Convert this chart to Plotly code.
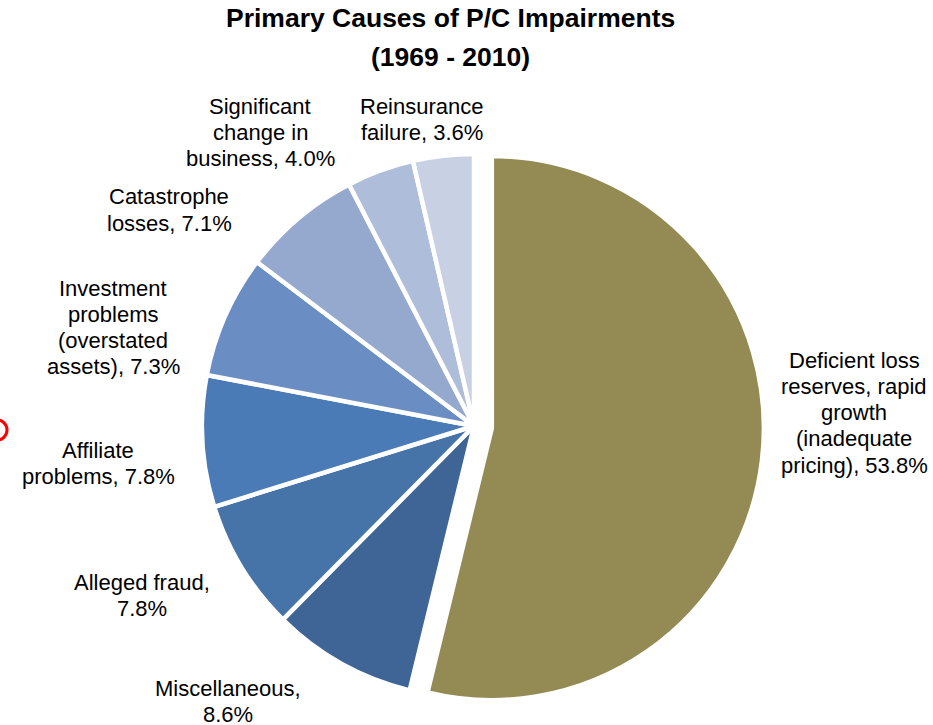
import plotly.graph_objects as go

# Primary causes of P/C impairments, share of impaired companies (%)
categories = [
    "Deficient loss reserves, rapid growth (inadequate pricing)",
    "Miscellaneous",
    "Alleged fraud",
    "Affiliate problems",
    "Investment problems (overstated assets)",
    "Catastrophe losses",
    "Significant change in business",
    "Reinsurance failure",
]
shares = [53.8, 8.6, 7.8, 7.8, 7.3, 7.1, 4.0, 3.6]

# Wrapped label layouts; "{pct}" is filled in from the shares above
label_templates = [
    "Deficient loss|reserves, rapid|growth|(inadequate|pricing), {pct}",
    "Miscellaneous,|{pct}",
    "Alleged fraud,|{pct}",
    "Affiliate|problems, {pct}",
    "Investment|problems|(overstated|assets), {pct}",
    "Catastrophe|losses, {pct}",
    "Significant|change in|business, {pct}",
    "Reinsurance|failure, {pct}",
]

colors = ["#948A54", "#3F6597", "#4673A8", "#4A7BB7", "#6A8EC3",
          "#95A8CE", "#AEBDDA", "#C8D0E3"]
pulls = [0.066, 0, 0, 0, 0, 0, 0, 0]

W, H = 933, 725
FONT = "Liberation Sans, Arial, sans-serif"

# label anchor (centre x, first line centre y) in pixels
label_pos = [
    (854, 360), (228, 688), (142, 582), (98, 450),
    (113, 288), (169, 197), (260, 106), (422, 106),
]
LINE_STEP = 26.3


def px(x):
    return x / W


def py(y):
    return 1 - y / H


fig = go.Figure(go.Pie(
    labels=categories,
    values=shares,
    sort=False,
    direction="clockwise",
    rotation=0,
    pull=pulls,
    marker=dict(colors=colors, line=dict(color="white", width=4.5)),
    textinfo="none",
    hoverinfo="label+percent",
    domain=dict(x=[px(184), px(764)], y=[py(716), py(136)]),
))

annotations = []
for tmpl, val, (cx, cy) in zip(label_templates, shares, label_pos):
    lines = tmpl.format(pct=f"{val:.1f}%").split("|")
    for i, line in enumerate(lines):
        annotations.append(dict(
            x=px(cx), y=py(cy + i * LINE_STEP), xref="paper", yref="paper",
            text=line, showarrow=False, xanchor="center", yanchor="middle",
            font=dict(family=FONT, size=22, color="#000000"),
        ))

for text, y in [("Primary Causes of P/C Impairments", 18), ("(1969 - 2010)", 57)]:
    annotations.append(dict(
        x=px(450), y=py(y), xref="paper", yref="paper",
        text=f"<b>{text}</b>", showarrow=False, xanchor="center", yanchor="middle",
        font=dict(family=FONT, size=26.5, color="#000000"),
    ))

fig.update_layout(
    width=W, height=H,
    margin=dict(l=0, r=0, t=0, b=0),
    paper_bgcolor="white",
    plot_bgcolor="white",
    showlegend=False,
    annotations=annotations,
    shapes=[dict(
        type="circle", xref="paper", yref="paper",
        x0=px(-13), x1=px(7), y0=py(440), y1=py(420),
        line=dict(color="#FF0000", width=3),
    )],
)

fig.write_html("out.html")
